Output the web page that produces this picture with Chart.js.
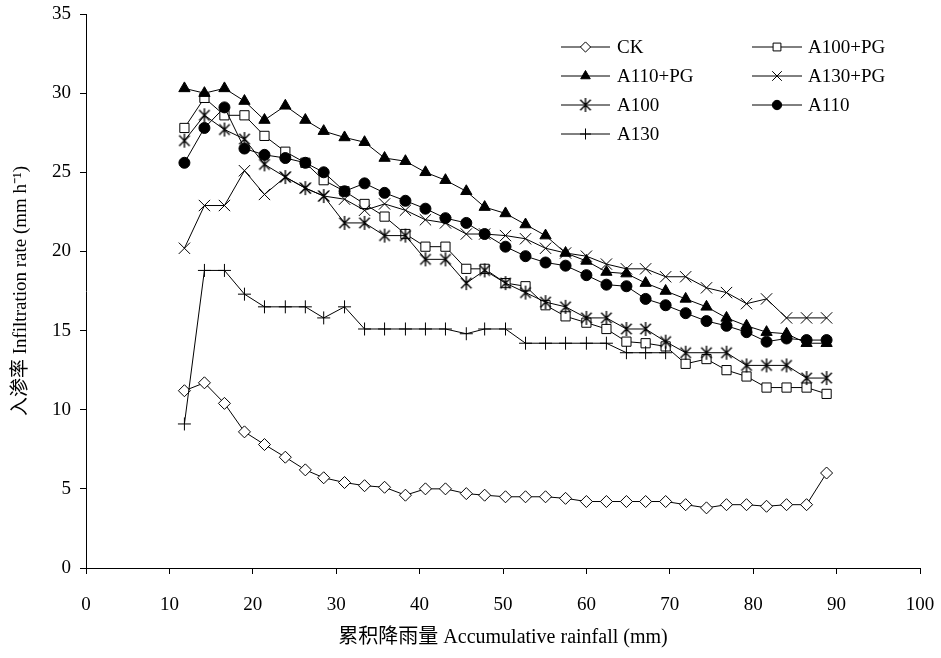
<!DOCTYPE html>
<html>
<head>
<meta charset="utf-8">
<script src="https://cdn.jsdelivr.net/npm/chart.js@4.4.1/dist/chart.umd.min.js"></script>
<style>
  html, body { margin: 0; padding: 0; background: #fff; }
  #wrap { width: 941px; height: 658px; }
</style>
</head>
<body>
<div id="wrap"><canvas id="myChart"></canvas></div>
<script>
// accumulative rainfall (mm), shared by every treatment
const rainfall = [11.8, 14.2, 16.6, 19.0, 21.4, 23.9, 26.3, 28.5, 31.0, 33.4, 35.8, 38.3, 40.7, 43.1, 45.6, 47.8, 50.3,
  52.7, 55.1, 57.5, 60.0, 62.4, 64.8, 67.1, 69.5, 71.9, 74.4, 76.8, 79.2, 81.6, 84.0, 86.4, 88.8];

// infiltration rate (mm h-1)
const ck = [11.2, 11.7, 10.4, 8.6, 7.8, 7.0, 6.2, 5.7, 5.4, 5.2, 5.1, 4.6, 5.0, 5.0, 4.7, 4.6, 4.5,
  4.5, 4.5, 4.4, 4.2, 4.2, 4.2, 4.2, 4.2, 4.0, 3.8, 4.0, 4.0, 3.9, 4.0, 4.0, 6.0];
const a100pg = [27.8, 29.7, 28.6, 28.6, 27.3, 26.3, 25.6, 24.5, 23.8, 23.0, 22.2, 21.1, 20.3, 20.3, 18.9, 18.9, 18.0,
  17.8, 16.6, 15.9, 15.5, 15.1, 14.3, 14.2, 14.0, 12.9, 13.2, 12.5, 12.1, 11.4, 11.4, 11.4, 11.0];
const a110pg = [30.3, 30.0, 30.3, 29.5, 28.3, 29.2, 28.3, 27.6, 27.2, 26.9, 25.9, 25.7, 25.0, 24.5, 23.8, 22.8, 22.4,
  21.7, 21.0, 19.9, 19.4, 18.7, 18.6, 18.0, 17.5, 17.0, 16.5, 15.8, 15.3, 14.9, 14.8, 14.2, 14.2];
const a130pg = [20.2, 22.9, 22.9, 25.1, 23.6, 24.7, 24.0, 23.5, 23.3, 22.6, 23.0, 22.6, 22.0, 21.8, 21.1, 21.1, 21.0,
  20.8, 20.2, 19.9, 19.7, 19.2, 18.9, 18.9, 18.4, 18.4, 17.7, 17.4, 16.7, 17.0, 15.8, 15.8, 15.8];
const a100 = [27.0, 28.6, 27.7, 27.1, 25.5, 24.7, 24.0, 23.5, 21.8, 21.8, 21.0, 21.0, 19.5, 19.5, 18.0, 18.8, 18.0,
  17.4, 16.8, 16.5, 15.8, 15.8, 15.1, 15.1, 14.3, 13.6, 13.6, 13.6, 12.8, 12.8, 12.8, 12.0, 12.0];
const a110 = [25.6, 27.8, 29.1, 26.5, 26.1, 25.9, 25.6, 25.0, 23.8, 24.3, 23.7, 23.2, 22.7, 22.1, 21.8, 21.1, 20.3,
  19.7, 19.3, 19.1, 18.5, 17.9, 17.8, 17.0, 16.6, 16.1, 15.6, 15.3, 14.9, 14.3, 14.5, 14.4, 14.4];
const a130 = [9.1, 18.8, 18.8, 17.3, 16.5, 16.5, 16.5, 15.8, 16.5, 15.1, 15.1, 15.1, 15.1, 15.1, 14.8, 15.1, 15.1,
  14.2, 14.2, 14.2, 14.2, 14.2, 13.6, 13.6, 13.6];

const xTicks = [0, 10, 20, 30, 40, 50, 60, 70, 80, 90, 100];
const yTicks = [0, 5, 10, 15, 20, 25, 30, 35];

const serif = '"Liberation Serif", "Times New Roman", "Noto Sans CJK SC", serif';

// asterisk marker (vertical bar + x)
function makeAsterisk(r) {
  const c = document.createElement('canvas');
  const s = r * 2 + 2;
  c.width = s; c.height = s;
  const g = c.getContext('2d');
  const m = s / 2, d = r * 0.75;
  g.strokeStyle = '#000';
  g.lineWidth = 1.4;
  g.beginPath();
  g.moveTo(m, m - r); g.lineTo(m, m + r);
  g.moveTo(m - d, m - d); g.lineTo(m + d, m + d);
  g.moveTo(m - d, m + d); g.lineTo(m + d, m - d);
  g.stroke();
  return c;
}
const asterisk = makeAsterisk(7);

function pts(ys) {
  return ys.map((y, i) => ({ x: rainfall[i], y: y }));
}

function series(label, ys, style, radius, fill, order) {
  return {
    label: label,
    data: pts(ys),
    showLine: true,
    borderColor: '#000',
    borderWidth: 1,
    pointStyle: style,
    pointRadius: radius,
    pointHoverRadius: radius,
    pointBackgroundColor: fill,
    pointBorderColor: '#000',
    pointBorderWidth: 1,
    order: order,
  };
}

const datasets = [
  series('CK', ck, 'rectRot', 6, '#fff', 7),
  series('A100+PG', a100pg, 'rect', 6.5, '#fff', 6),
  series('A110+PG', a110pg, 'triangle', 6.5, '#000', 5),
  series('A130+PG', a130pg, 'crossRot', 8, '#000', 4),
  series('A100', a100, asterisk, 7, '#000', 3),
  series('A110', a110, 'circle', 5.5, '#000', 2),
  series('A130', a130, 'cross', 6.5, '#000', 1),
];

// legend drawn in two columns inside the plot, like the original figure
const legendPlugin = {
  id: 'twoColLegend',
  afterDraw(chart) {
    const ctx = chart.ctx;
    const cols = [{ x0: 561, x1: 610, tx: 617 }, { x0: 752, x1: 802, tx: 808 }];
    const rows = [47, 76, 105, 134];
    ctx.save();
    chart.data.datasets.forEach((ds, i) => {
      const c = cols[i % 2];
      const y = rows[Math.floor(i / 2)];
      ctx.strokeStyle = '#000';
      ctx.lineWidth = 1;
      ctx.beginPath();
      ctx.moveTo(c.x0, y);
      ctx.lineTo(c.x1, y);
      ctx.stroke();
      ctx.fillStyle = ds.pointBackgroundColor;
      ctx.strokeStyle = '#000';
      Chart.helpers.drawPoint(ctx, {
        pointStyle: ds.pointStyle,
        radius: ds.pointRadius * 0.85,
        borderWidth: 1,
        rotation: 0,
      }, (c.x0 + c.x1) / 2, y);
      ctx.fillStyle = '#000';
      ctx.font = '19px ' + serif;
      ctx.textAlign = 'left';
      ctx.textBaseline = 'middle';
      ctx.fillText(ds.label, c.tx, y + 1);
    });
    ctx.restore();
  }
};

new Chart(document.getElementById('myChart'), {
  type: 'scatter',
  data: { datasets: datasets },
  plugins: [legendPlugin],
  options: {
    responsive: true,
    maintainAspectRatio: false,
    animation: false,
    events: [],
    layout: { padding: { top: 14, right: 21, left: 0, bottom: 0 } },
    plugins: {
      legend: { display: false },
      tooltip: { enabled: false },
    },
    scales: {
      x: {
        type: 'linear',
        min: 0,
        max: 100,
        afterBuildTicks: (s) => { s.ticks = xTicks.map(v => ({ value: v })); },
        afterFit: (s) => { s.height = 90; s.paddingLeft = 0; s.paddingRight = 0; },
        grid: { drawOnChartArea: false, drawTicks: true, tickLength: 6, color: '#000' },
        border: { color: '#000', width: 1 },
        ticks: { color: '#000', padding: 20, maxRotation: 0, font: { family: serif, size: 19 } },
        title: {
          display: true,
          text: '累积降雨量 Accumulative rainfall (mm)',
          color: '#000',
          font: { family: serif, size: 20 },
          padding: { top: 0, bottom: 8 },
        },
      },
      y: {
        type: 'linear',
        min: 0,
        max: 35,
        afterBuildTicks: (s) => { s.ticks = yTicks.map(v => ({ value: v })); },
        afterFit: (s) => { s.width = 86; s.paddingTop = 0; s.paddingBottom = 0; },
        grid: { drawOnChartArea: false, drawTicks: true, tickLength: 6, color: '#000' },
        border: { color: '#000', width: 1 },
        ticks: { color: '#000', padding: 9, font: { family: serif, size: 19 } },
        title: {
          display: true,
          text: '入渗率 Infiltration rate (mm h⁻¹)',
          color: '#000',
          font: { family: serif, size: 19 },
          padding: { top: 10, bottom: 0 },
        },
      },
    },
  },
});
</script>
</body>
</html>
